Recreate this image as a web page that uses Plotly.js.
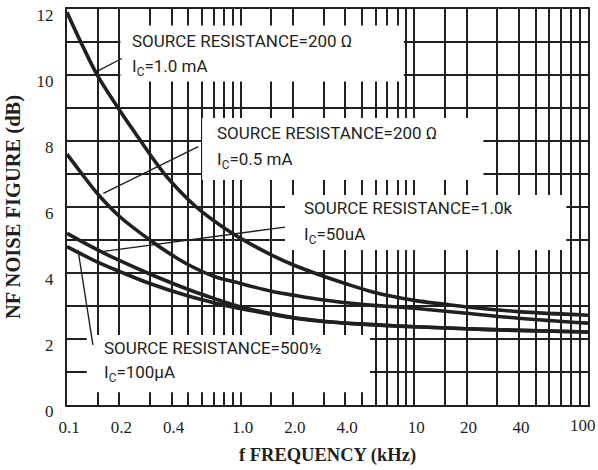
<!DOCTYPE html>
<html><head><meta charset="utf-8">
<script src="https://cdn.plot.ly/plotly-3.0.1.min.js"></script>
<style>html,body{margin:0;padding:0;background:#fff}</style>
</head><body>
<div id="chart" style="width:598px;height:470px"></div>
<script>
// ---- data (frequency in kHz, noise figure in dB) ----
const freq1 = [0.1, 0.12, 0.15, 0.2, 0.25, 0.3, 0.35, 0.4, 0.5, 0.6, 0.8, 1.0, 1.5, 2, 3, 4, 6, 10, 15, 20, 40, 100];
const nf1   = [11.9, 11.0, 9.98, 8.95, 8.2, 7.6, 7.12, 6.75, 6.22, 5.85, 5.37, 5.05, 4.55, 4.25, 3.9, 3.68, 3.4, 3.17, 3.05, 2.97, 2.83, 2.72];

const freq2 = [0.1, 0.12, 0.15, 0.2, 0.3, 0.4, 0.5, 0.7, 1.0, 1.5, 2, 3, 5, 10, 20, 40, 100];
const nf2   = [7.6, 7.05, 6.4, 5.72, 5.0, 4.55, 4.25, 3.9, 3.68, 3.45, 3.33, 3.18, 3.05, 2.93, 2.78, 2.63, 2.48];

const freq3 = [0.1, 0.15, 0.2, 0.3, 0.5, 0.7, 1.0, 1.5, 2, 3, 5, 10, 20, 40, 100];
const nf3   = [5.2, 4.7, 4.38, 3.97, 3.5, 3.23, 2.97, 2.77, 2.65, 2.54, 2.45, 2.37, 2.31, 2.26, 2.21];

const freq4 = [0.1, 0.15, 0.2, 0.3, 0.5, 0.7, 1.0, 1.5, 2, 3, 5, 10, 20, 40, 100];
const nf4   = [4.8, 4.33, 4.05, 3.68, 3.3, 3.1, 2.92, 2.75, 2.64, 2.53, 2.45, 2.37, 2.31, 2.26, 2.21];

const xTickVals  = [0.1, 0.2, 0.4, 1, 2, 4, 10, 20, 40];
const xTickText  = ['0.1', '0.2', '0.4', '1.0', '2.0', '4.0', '10', '20', '40'];
const xLastTick  = '100';   // last tick label, placed inside the page edge
const xMinorVals = [0.15,0.3,0.5,0.6,0.7,0.8,0.9,1.5,3,5,6,7,8,9,15,30,50,60,70,80,90,100];
const yTickVals  = [0, 2, 4, 6, 8, 10, 12];
const yTickText  = ['0', '2', '4', '6', '8', '10', '12'];
const yMinorVals = [1, 3, 5, 7, 9, 11];

const labelLine1 = ['SOURCE RESISTANCE=200 Ω', 'SOURCE RESISTANCE=200 Ω', 'SOURCE RESISTANCE=1.0k', 'SOURCE RESISTANCE=500½'];
const labelLine2 = ['I<sub>C</sub>=1.0 mA', 'I<sub>C</sub>=0.5 mA', 'I<sub>C</sub>=50uA', 'I<sub>C</sub>=100µA'];

// ---- layout helpers (positions in axis units) ----
const ink = '#231f20';
const labelPos = [ // [x kHz, y line1, y line2]
  [0.231, 11.03, 10.22],
  [0.711, 8.24, 7.42],
  [2.25, 5.97, 5.15],
  [0.159, 1.73, 0.95]
];
const boxes = [ // [x0, x1, y0, y1]
  [0.203, 8.7, 9.8, 11.5],
  [0.6, 25, 6.82, 8.7],
  [1.8, 75, 4.7, 6.36],
  [0.13, 5.55, 0.39, 2.12]
];
const leaders = [ // [x0,y0,x1,y1]
  [0.2066, 10.5, 0.148, 10.1],
  [0.57, 7.83, 0.162, 6.41],
  [1.8, 5.39, 0.155, 4.64],
  [0.141, 1.82, 0.1157, 4.70]
];

const curve = (x, y) => ({x: x, y: y, type: 'scatter', mode: 'lines',
  line: {color: ink, width: 3.6, shape: 'spline', smoothing: 1}, hoverinfo: 'skip', showlegend: false});
const traces = [curve(freq1, nf1), curve(freq2, nf2), curve(freq3, nf3), curve(freq4, nf4)];

const shapes = [];
boxes.forEach(b => shapes.push({type: 'rect', xref: 'x', yref: 'y', x0: b[0], x1: b[1], y0: b[2], y1: b[3],
  fillcolor: '#ffffff', line: {width: 0}, layer: 'between'}));
leaders.forEach(l => shapes.push({type: 'line', xref: 'x', yref: 'y', x0: l[0], y0: l[1], x1: l[2], y1: l[3],
  line: {color: ink, width: 1.4}, layer: 'above'}));

const annFont = {family: 'Roboto, sans-serif', size: 17, color: ink};
const tickFont = {family: 'Liberation Serif, serif', size: 17, color: ink};
const annotations = [];
labelPos.forEach((p, i) => {
  annotations.push({x: Math.log10(p[0]), y: p[1], xref: 'x', yref: 'y', text: labelLine1[i], showarrow: false,
    xanchor: 'left', yanchor: 'middle', font: annFont});
  annotations.push({x: Math.log10(p[0]), y: p[2], xref: 'x', yref: 'y', text: labelLine2[i], showarrow: false,
    xanchor: 'left', yanchor: 'middle', font: annFont});
});
annotations.push({x: 1, y: 0, xref: 'paper', yref: 'paper', text: xLastTick, showarrow: false,
  xanchor: 'center', yanchor: 'top', xshift: -5, yshift: -9, font: tickFont});

const gridStyle = {showgrid: true, gridcolor: ink, gridwidth: 2, ticks: ''};

const layout = {
  width: 598, height: 470,
  margin: {l: 67, r: 10, t: 9, b: 65},
  paper_bgcolor: '#ffffff', plot_bgcolor: '#ffffff',
  showlegend: false,
  xaxis: Object.assign({
    type: 'log', range: [-1, 2], tickmode: 'array', tickvals: xTickVals, ticktext: xTickText,
    showline: true, linecolor: ink, linewidth: 2, mirror: true,
    ticklabelstandoff: 6, ticklabelshift: 2, ticklabeloverflow: 'allow',
    minor: Object.assign({tickmode: 'array', tickvals: xMinorVals}, gridStyle),
    tickfont: tickFont,
    title: {text: 'f FREQUENCY (kHz)', standoff: 12, font: {family: 'Liberation Serif, serif', size: 18.5, color: ink, weight: 700}}
  }, gridStyle),
  yaxis: Object.assign({
    range: [0, 12], tickmode: 'array', tickvals: yTickVals, ticktext: yTickText,
    zeroline: false, showline: true, linecolor: ink, linewidth: 2, mirror: true,
    ticklabelstandoff: 8, ticklabelshift: 6, ticklabeloverflow: 'allow',
    minor: Object.assign({tickmode: 'array', tickvals: yMinorVals}, gridStyle),
    tickfont: tickFont,
    title: {text: 'NF NOISE FIGURE (dB)', standoff: 10, font: {family: 'Liberation Serif, serif', size: 20.5, color: ink, weight: 700}}
  }, gridStyle),
  shapes: shapes,
  annotations: annotations
};

Plotly.newPlot('chart', traces, layout, {staticPlot: true, displayModeBar: false});
</script>
</body></html>
